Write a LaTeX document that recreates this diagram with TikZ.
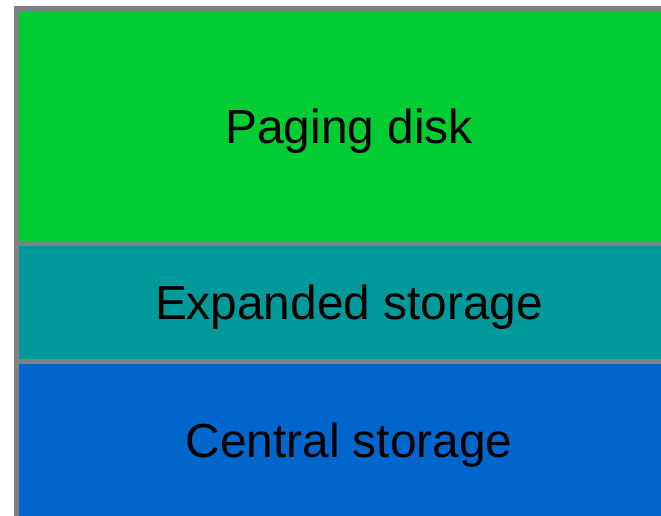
\documentclass[tikz,border=0pt]{standalone}
\usepackage{fontspec}
\setmainfont{Liberation Sans}
\definecolor{pgreen}{HTML}{00CC33}
\definecolor{pteal}{HTML}{009999}
\definecolor{pblue}{HTML}{0066CC}
\definecolor{pgray}{HTML}{808080}
\begin{document}
\begin{tikzpicture}[x=1pt,y=1pt,
  layer/.style={draw=pgray, line width=5.5pt, rectangle, inner sep=0pt, outer sep=0pt,
    minimum width=665pt, anchor=north west, font=\fontsize{47.8}{58}\selectfont,
    text height=34.6pt, text depth=0pt, text=black}]
\useasboundingbox (0,0) rectangle (661,-516);
\node[layer, fill=pgreen, minimum height=235pt] (paging) at (16.5,-8.5) {Paging disk};
\node[layer, fill=pteal, minimum height=118pt] (expanded) at (16.5,-243.5) {Expanded storage};
\node[layer, fill=pblue, minimum height=158pt] (central) at (16.5,-361.5) {Central storage};
\end{tikzpicture}
\end{document}
